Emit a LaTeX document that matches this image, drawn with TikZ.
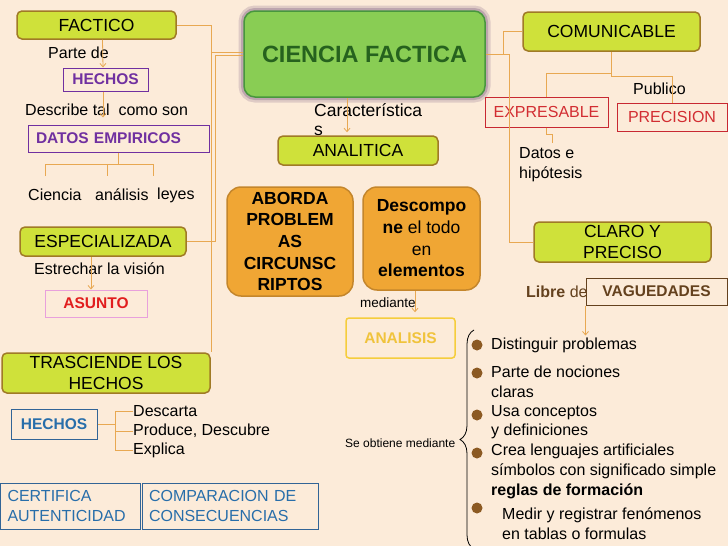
\documentclass[tikz,border=0pt]{standalone}
\usepackage{fontspec}
\setmainfont{Liberation Sans}
\usetikzlibrary{calc, positioning, arrows.meta, decorations.pathreplacing}

\definecolor{Fondo}{RGB}{252,235,217}
\definecolor{Enlace}{RGB}{232,168,82}
\definecolor{Lima}{RGB}{207,225,58}
\definecolor{LimaBorde}{RGB}{160,122,38}
\definecolor{Verde}{RGB}{137,205,84}
\definecolor{VerdeBorde}{RGB}{72,150,62}
\definecolor{VerdeTexto}{RGB}{38,98,30}
\definecolor{Sombra}{RGB}{140,110,140}
\definecolor{Naranja}{RGB}{240,166,52}
\definecolor{NaranjaBorde}{RGB}{196,134,44}
\definecolor{Morado}{RGB}{112,48,160}
\definecolor{Rosa}{RGB}{232,160,220}
\definecolor{Rojo}{RGB}{225,30,30}
\definecolor{RojoBorde}{RGB}{200,40,50}
\definecolor{RojoTexto}{RGB}{210,45,50}
\definecolor{Azul}{RGB}{40,110,170}
\definecolor{AzulBorde}{RGB}{50,100,150}
\definecolor{Cafe}{RGB}{100,65,30}
\definecolor{Bala}{RGB}{140,90,35}
\definecolor{Amarillo}{RGB}{245,205,60}
\definecolor{AmarilloTexto}{RGB}{240,195,60}

\tikzset{
    linea/.style={draw=Enlace, line width=0.8pt},
    flecha/.style={linea, -{Straight Barb[length=3.5pt, width=6pt]}},
    texto/.style={inner sep=0pt, align=left, font=\fontsize{16}{19.7}\selectfont},
    caja/.style={inner sep=0pt, align=center},
    caja lima/.style={caja, fill=Lima, draw=LimaBorde, line width=1.5pt,
        rounded corners=5pt, font=\fontsize{17.5}{21.5}\selectfont},
    caja ciencia/.style={caja, fill=Verde, draw=VerdeBorde, line width=1.5pt,
        rounded corners=11pt, text=VerdeTexto,
        font=\bfseries\fontsize{23.5}{28}\selectfont,
        preaction={draw=Sombra, line width=11pt, opacity=.25},
        preaction={draw=Sombra, line width=6pt, opacity=.4}},
    caja naranja/.style={caja, fill=Naranja, draw=NaranjaBorde, line width=1.5pt,
        rounded corners=14pt, font=\bfseries\fontsize{17.5}{21.7}\selectfont},
    caja morada/.style={caja, draw=Morado, line width=1pt, text=Morado,
        font=\bfseries\fontsize{15.5}{19}\selectfont},
    caja rosa/.style={caja, draw=Rosa, line width=1pt, text=Rojo,
        font=\bfseries\fontsize{15.5}{19}\selectfont},
    caja azul/.style={caja, draw=AzulBorde, line width=1pt, text=Azul,
        font=\bfseries\fontsize{15.5}{19}\selectfont},
    caja azul fina/.style={caja, draw=AzulBorde, line width=1pt, text=Azul,
        align=left, inner xsep=7pt, font=\fontsize{16}{20}\selectfont},
    caja roja/.style={caja, draw=RojoBorde, line width=1pt, text=RojoTexto,
        font=\fontsize{16}{19}\selectfont},
    caja cafe/.style={caja, draw=Cafe, line width=1pt, text=Cafe,
        font=\bfseries\fontsize{15.5}{19}\selectfont},
    caja amarilla/.style={caja, draw=Amarillo, line width=1.5pt, rounded corners=3pt,
        text=AmarilloTexto, font=\bfseries\fontsize{15.5}{19}\selectfont},
    llave grande/.style={decorate, decoration={brace, amplitude=14pt},
        draw=black, line width=0.8pt}
}

\begin{document}
\begin{tikzpicture}[x=1pt, y=-1pt]

\fill[Fondo] (0,0) rectangle (728,546);
\useasboundingbox (0,0) rectangle (728,546);
\clip (0,0) rectangle (728,546);

% Nodo central
\node[caja ciencia, minimum width=241pt, minimum height=86pt] (ciencia) at (364.5,54) {CIENCIA FACTICA};

% Rama izquierda: factico
\node[caja lima, minimum width=159pt, minimum height=28pt] (factico) at (96.5,25) {FACTICO};
\node[texto, anchor=west] (partede) at (48,53) {Parte de};
\node[caja morada, minimum width=85pt, minimum height=23pt] (hechos) at (105.5,79.5) {HECHOS};
\node[texto, anchor=west] (describe) at (25,110) {Describe tal\ \ como son};
\node[caja morada, minimum width=181pt, minimum height=27pt, inner xsep=8pt,
      text width=165pt, align=left] (datos) at (118.5,138.5) {DATOS EMPIRICOS};
\node[texto, anchor=west] (cien) at (28,195) {Ciencia};
\node[texto, anchor=west] (anal) at (95,195) {análisis};
\node[texto, anchor=west] (leyes) at (157,195) {leyes};

\draw[flecha] ([xshift=6pt]factico.south) -- ([xshift=-2.5pt]hechos.north);
\draw[flecha, shorten >=7pt] ([xshift=-2.5pt]hechos.south) -- ([xshift=-15.5pt]datos.north);

% Ramitas bajo datos empiricos
\coordinate (t1) at (45,176);
\coordinate (t2) at (107,176);
\coordinate (t3) at (153,176);
\draw[linea] (datos.south) -- ++(0,12) coordinate (dj);
\draw[linea] (t1) |- (dj) -| (t3);
\draw[linea] (dj) -| (t2);

% Rama izquierda: especializada
\node[caja lima, minimum width=166pt, minimum height=29pt] (especial) at (103,241.5) {ESPECIALIZADA};
\node[texto, anchor=west] (estrechar) at (34,269) {Estrechar la visión};
\node[caja rosa, minimum width=102pt, minimum height=27pt] (asunto) at (96,303.5) {ASUNTO};
\draw[flecha] ([xshift=-12pt]especial.south) -- ([xshift=-5pt]asunto.north);

% Rama izquierda: trasciende los hechos
\node[caja lima, minimum width=208pt, minimum height=40pt] (trasc) at (106,373) {TRASCIENDE LOS\\HECHOS};
\node[caja azul, minimum width=86pt, minimum height=30pt] (hechosb) at (54,424) {HECHOS};
\node[texto, anchor=west] (descarta) at (133,411) {Descarta};
\node[texto, anchor=west] (produce) at (133,431) {Produce, Descubre};
\node[texto, anchor=west] (explica) at (133,450) {Explica};
\draw[linea] (hechosb.east) -- ++(18,0) coordinate (hb);
\draw[linea] (descarta.west) -| (hb) |- (explica.west);
\draw[linea] (produce.west) -- (produce.west -| hb);

\node[caja azul fina, minimum width=139.5pt, minimum height=46pt, text width=125.5pt]
    (certif) at (70.25,506) {CERTIFICA\\AUTENTICIDAD};
\node[caja azul fina, minimum width=176pt, minimum height=46pt, text width=162pt]
    (compar) at (230,506) {COMPARACION DE\\CONSECUENCIAS};

% Conectores del nodo central a la izquierda
\coordinate (lv) at (211,52);
\draw[linea] (factico.east) -| (lv) -- ([yshift=2pt]ciencia.west);
\draw[linea] (lv) -- (lv |- trasc.north);
\draw[linea] ([yshift=-1pt]ciencia.west) -- ++(-28,0) |- (especial.east);

% Centro: analitica
\node[texto, anchor=west, font=\fontsize{17.5}{19}\selectfont] (caract) at (314,119.5) {Característica\\s};
\node[caja lima, minimum width=160pt, minimum height=29pt] (analitica) at (358,150.5) {ANALITICA};
\draw[flecha, shorten >=3pt] ([xshift=-17.5pt]ciencia.south) -- ([xshift=-11pt]analitica.north);

\node[caja naranja, minimum width=126pt, minimum height=109pt] (aborda) at (290,241.5)
    {ABORDA\\PROBLEM\\AS\\CIRCUNSC\\RIPTOS};
\node[caja naranja, minimum width=117pt, minimum height=103pt,
      font=\fontsize{17.5}{21.7}\selectfont] (descomp) at (421.5,238.5)
    {\textbf{Descompo}\\\textbf{ne} el todo\\en\\\textbf{elementos}};
\node[texto, anchor=west, font=\fontsize{13.5}{16}\selectfont] (mediante) at (360,303) {mediante};
\node[caja amarilla, minimum width=109pt, minimum height=40pt] (analisis) at (400.5,338) {ANALISIS};
\draw[flecha, shorten >=5pt] ([xshift=-6.5pt]descomp.south) -- ([xshift=14.5pt]analisis.north);

% Llave y lista
\node[texto, anchor=west, font=\fontsize{12}{14}\selectfont] (seobt) at (345,443) {Se obtiene mediante};
\draw[llave grande] (474,549) -- (474,330);

\fill[Bala] (477,345) circle (5.5);
\fill[Bala] (477,373) circle (5.5);
\fill[Bala] (477,415) circle (5.5);
\fill[Bala] (477,453) circle (5.5);
\fill[Bala] (477,508) circle (5.5);

\node[texto, anchor=west] (item1) at (491,345) {Distinguir problemas};
\node[texto, anchor=west] (item2) at (491,382) {Parte de nociones\\claras};
\node[texto, anchor=west] (item3) at (491,422) {Usa conceptos\\y definiciones};
\node[texto, anchor=west] (item4) at (491,471.5)
    {Crea lenguajes artificiales\\símbolos con significado simple\\\textbf{reglas de formación}};
\node[texto, anchor=west] (item5) at (502,524) {Medir y registrar fenómenos\\en tablas o formulas};

% Rama derecha: comunicable
\node[caja lima, minimum width=177pt, minimum height=39pt] (comunic) at (611.5,31.5) {COMUNICABLE};
\node[texto, anchor=west] (publico) at (633,89) {Publico};
\node[caja roja, minimum width=123pt, minimum height=30pt] (expres) at (546.5,112) {EXPRESABLE};
\node[caja roja, minimum width=110pt, minimum height=28pt] (precis) at (672,117) {PRECISION};
\node[texto, anchor=west] (datose) at (519,165) {Datos e\\hipótesis};

\draw[linea] (comunic.south) -- ++(0,22) coordinate (cj) -| (expres.north);
\draw[linea] (cj) -- ++(0,3) -| (precis.north);
\draw[linea] (expres.south) -- ++(0,7) -- ++(6,0) -- ++(0,8);

% Rama derecha: claro y preciso
\node[caja lima, minimum width=177pt, minimum height=40pt] (claro) at (622.5,242) {CLARO Y\\PRECISO};
\node[texto, anchor=west, text=Cafe] (libre) at (526,292) {\textbf{Libre} de};
\node[caja cafe, minimum width=141pt, minimum height=27pt] (vague) at (656.5,291.5) {VAGUEDADES};
\draw[flecha] (vague.south west) -- ++(0,30);

% Conectores del nodo central a la derecha
\draw[linea] (ciencia.east) -- ++(18,0) |- (comunic.west);
\draw[linea] (ciencia.east) -- ++(24,0) |- (claro.west);

\end{tikzpicture}
\end{document}
